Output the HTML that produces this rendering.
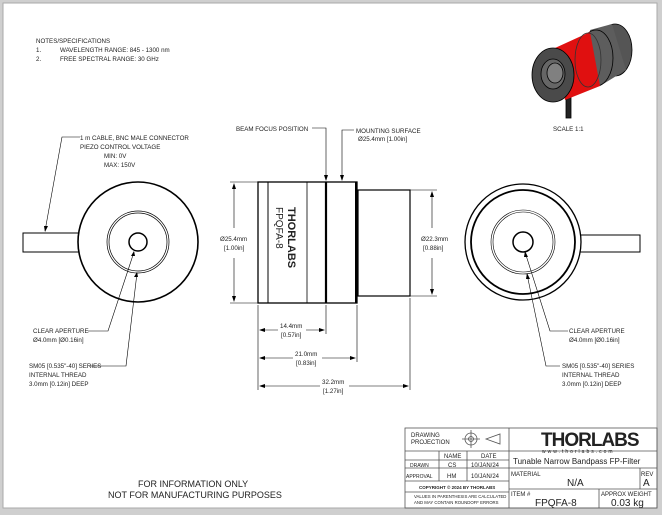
<!DOCTYPE html>
<html><head><style>
body{margin:0;background:#fff}
svg{display:block}
text{font-family:"Liberation Sans",sans-serif;fill:#222}
</style></head><body>
<svg width="662" height="515" viewBox="0 0 662 515" xmlns="http://www.w3.org/2000/svg">
<rect x="0" y="0" width="662" height="515" fill="#cfcfcf"/>
<rect x="3" y="3" width="654" height="505" fill="#fff" stroke="#aaa"/>
<g font-size="6.2">
<text x="36" y="43">NOTES/SPECIFICATIONS</text>
<text x="36" y="52">1.</text><text x="60" y="52">WAVELENGTH RANGE: 845 - 1300 nm</text>
<text x="36" y="61">2.</text><text x="60" y="61">FREE SPECTRAL RANGE: 30 GHz</text>
</g>
<g fill="none" stroke="#000">
<!-- left view -->
<rect x="23" y="233" width="58" height="19" stroke-width="1"/>
<circle cx="138" cy="242" r="60" fill="#fff" stroke-width="1.6"/>
<circle cx="138" cy="242" r="31" stroke-width="0.7"/>
<circle cx="138" cy="242" r="29" stroke-width="0.7"/>
<circle cx="138" cy="242" r="9" stroke-width="1.5"/>
<!-- right view -->
<rect x="575" y="235" width="65" height="17" stroke-width="1"/>
<circle cx="523" cy="242" r="58" fill="#fff" stroke-width="1.3"/>
<circle cx="523" cy="242" r="52" stroke-width="1.8"/>
<circle cx="523" cy="242" r="32" stroke-width="0.6"/>
<circle cx="523" cy="242" r="30" stroke-width="0.6"/>
<circle cx="523" cy="242" r="10" stroke-width="1.5"/>
<!-- middle -->
<rect x="258" y="182" width="99" height="121" stroke-width="1.3"/>
<line x1="268" y1="182" x2="268" y2="303" stroke-width="1"/>
<line x1="307" y1="182" x2="307" y2="303" stroke-width="0.8"/>
<line x1="326" y1="182" x2="326" y2="303" stroke-width="2.2"/>
<line x1="356" y1="182" x2="356" y2="303" stroke-width="2"/>
<rect x="358" y="190" width="52" height="106" stroke-width="1.2"/>
<g stroke-width="0.6">
<line x1="230" y1="182" x2="258" y2="182"/><line x1="230" y1="303" x2="258" y2="303"/>
<line x1="234" y1="185" x2="234" y2="228"/><line x1="234" y1="258" x2="234" y2="300"/>
<line x1="410" y1="190" x2="437" y2="190"/><line x1="410" y1="296" x2="437" y2="296"/>
<line x1="432" y1="193" x2="432" y2="228"/><line x1="432" y1="258" x2="432" y2="293"/>
<line x1="258" y1="305" x2="258" y2="390"/><line x1="326" y1="305" x2="326" y2="334"/>
<line x1="357" y1="305" x2="357" y2="362"/><line x1="410" y1="298" x2="410" y2="390"/>
<line x1="261" y1="330" x2="278" y2="330"/><line x1="306" y1="330" x2="323" y2="330"/>
<line x1="261" y1="358" x2="293" y2="358"/><line x1="322" y1="358" x2="354" y2="358"/>
<line x1="261" y1="386" x2="320" y2="386"/><line x1="349" y1="386" x2="407" y2="386"/>
<polyline points="312,128 326,128 326,180"/>
<polyline points="354,130 342,130 342,180"/>
<polyline points="80,137 62,137 45,231"/>
<polyline points="88,331 108,331 134,252"/>
<polyline points="90,366 126,366 137,273"/>
<polyline points="568,331 550,331 525,252"/>
<polyline points="560,366 546,366 527,274"/>
</g>
</g>
<g fill="#000">
<path d="M234 183 l-2 6 h4z M234 302 l-2 -6 h4z M432 191 l-2 6 h4z M432 295 l-2 -6 h4z"/>
<path d="M259 330 l6 -2 v4z M325 330 l-6 -2 v4z M259 358 l6 -2 v4z M356 358 l-6 -2 v4z M259 386 l6 -2 v4z M409 386 l-6 -2 v4z"/>
<path d="M326 181 l-2 -6 h4z M342 181 l-2 -6 h4z M45 232 l-1 -6 h4z M134 251 l-3 5 h4z M137 272 l-3 5 h4z M525 251 l-1 6 h4z M527 273 l-1 6 h4z"/>
</g>
<g font-size="6.2">
<text x="236" y="131">BEAM FOCUS POSITION</text>
<text x="356" y="133">MOUNTING SURFACE</text>
<text x="358" y="141">Ø25.4mm [1.00in]</text>
<text x="80" y="140">1 m CABLE, BNC MALE CONNECTOR</text>
<text x="80" y="149">PIEZO CONTROL VOLTAGE</text>
<text x="104" y="158">MIN: 0V</text>
<text x="104" y="167">MAX: 150V</text>
<text x="220" y="241">Ø25.4mm</text><text x="224" y="250">[1.00in]</text>
<text x="421" y="241">Ø22.3mm</text><text x="423" y="250">[0.88in]</text>
<text x="280" y="328">14.4mm</text><text x="281" y="337">[0.57in]</text>
<text x="295" y="356">21.0mm</text><text x="296" y="365">[0.83in]</text>
<text x="322" y="384">32.2mm</text><text x="323" y="393">[1.27in]</text>
<text x="33" y="333">CLEAR APERTURE</text><text x="33" y="342">Ø4.0mm [Ø0.16in]</text>
<text x="29" y="368">SM05 [0.535"-40] SERIES</text><text x="29" y="377">INTERNAL THREAD</text><text x="29" y="386">3.0mm [0.12in] DEEP</text>
<text x="569" y="333">CLEAR APERTURE</text><text x="569" y="342">Ø4.0mm [Ø0.16in]</text>
<text x="562" y="368">SM05 [0.535"-40] SERIES</text><text x="562" y="377">INTERNAL THREAD</text><text x="562" y="386">3.0mm [0.12in] DEEP</text>
<text x="553" y="131">SCALE 1:1</text>
</g>
<text transform="translate(288,207) rotate(90)" font-size="11" font-weight="bold">THORLABS</text>
<text transform="translate(276,207) rotate(90)" font-size="10">FPQFA-8</text>
<!-- 3D render -->
<g stroke="#000" stroke-width="0.8">
<rect x="566" y="96" width="5" height="22" fill="#222"/>
<ellipse cx="615" cy="50" rx="17" ry="26" fill="#555"/>
<path d="M590 30 L612 24 L626 70 L600 86 Z" fill="#5d5d5d" stroke="none"/>
<ellipse cx="596" cy="58" rx="17" ry="28" fill="#5d5d5d"/>
<path d="M555 48 L590 32 L600 86 L565 100 Z" fill="#e01010" stroke="none"/>
<ellipse cx="588" cy="60" rx="13" ry="27" fill="none" stroke="#333"/>
<ellipse cx="553" cy="75" rx="21" ry="27" fill="#4a4a4a"/>
<ellipse cx="553" cy="74" rx="12" ry="15" fill="#666"/>
<ellipse cx="555" cy="73" rx="8" ry="10" fill="#808080"/>
</g>
<!-- title block -->
<g fill="none" stroke="#555" stroke-width="0.8">
<rect x="405" y="428" width="252" height="80"/>
<line x1="509" y1="428" x2="509" y2="508"/>
<line x1="405" y1="451" x2="657" y2="451"/>
<line x1="405" y1="460" x2="509" y2="460"/>
<line x1="405" y1="468" x2="657" y2="468"/>
<line x1="405" y1="481" x2="509" y2="481"/>
<line x1="405" y1="492" x2="509" y2="492"/>
<line x1="509" y1="489" x2="657" y2="489"/>
<line x1="439" y1="451" x2="439" y2="481"/>
<line x1="467" y1="451" x2="467" y2="481"/>
<line x1="599" y1="489" x2="599" y2="508"/>
<line x1="640" y1="468" x2="640" y2="489"/>
<circle cx="471" cy="439" r="6"/><circle cx="471" cy="439" r="2.5"/>
<line x1="462" y1="439" x2="480" y2="439"/><line x1="471" y1="430" x2="471" y2="448"/>
<path d="M486 439 L500 434 V444 Z"/>
</g>
<g font-size="6">
<text x="411" y="437">DRAWING</text><text x="411" y="444">PROJECTION</text>
<text x="444" y="458">NAME</text><text x="481" y="458">DATE</text>
<text x="410" y="467" font-size="5">DRAWN</text><text x="448" y="467">CS</text><text x="471" y="467">10/JAN/24</text>
<text x="406" y="478" font-size="5">APPROVAL</text><text x="447" y="478">HM</text><text x="471" y="478">10/JAN/24</text>
<text x="419" y="489" font-size="4.5" font-weight="bold">COPYRIGHT © 2024 BY THORLABS</text>
<text x="414" y="498" font-size="4.3">VALUES IN PARENTHESIS ARE CALCULATED</text>
<text x="414" y="504" font-size="4.3">AND MAY CONTAIN ROUNDOFF ERRORS</text>
<text x="511" y="476">MATERIAL</text><text x="641" y="476">REV</text>
<text x="511" y="496">ITEM #</text><text x="601" y="496">APPROX WEIGHT</text>
</g>
<text x="541" y="446" font-size="19" font-weight="bold" fill="#000" letter-spacing="-1">THORLABS</text>
<text x="542" y="453" font-size="5" letter-spacing="2">www.thorlabs.com</text>
<text x="513" y="464" font-size="8">Tunable Narrow Bandpass FP-Filter</text>
<text x="567" y="486" font-size="10">N/A</text>
<text x="643" y="486" font-size="10">A</text>
<text x="535" y="506" font-size="10">FPQFA-8</text>
<text x="611" y="506" font-size="10">0.03 kg</text>
<text x="138" y="487" font-size="9">FOR INFORMATION ONLY</text>
<text x="108" y="498" font-size="9">NOT FOR MANUFACTURING PURPOSES</text>
</svg>
</body></html>
